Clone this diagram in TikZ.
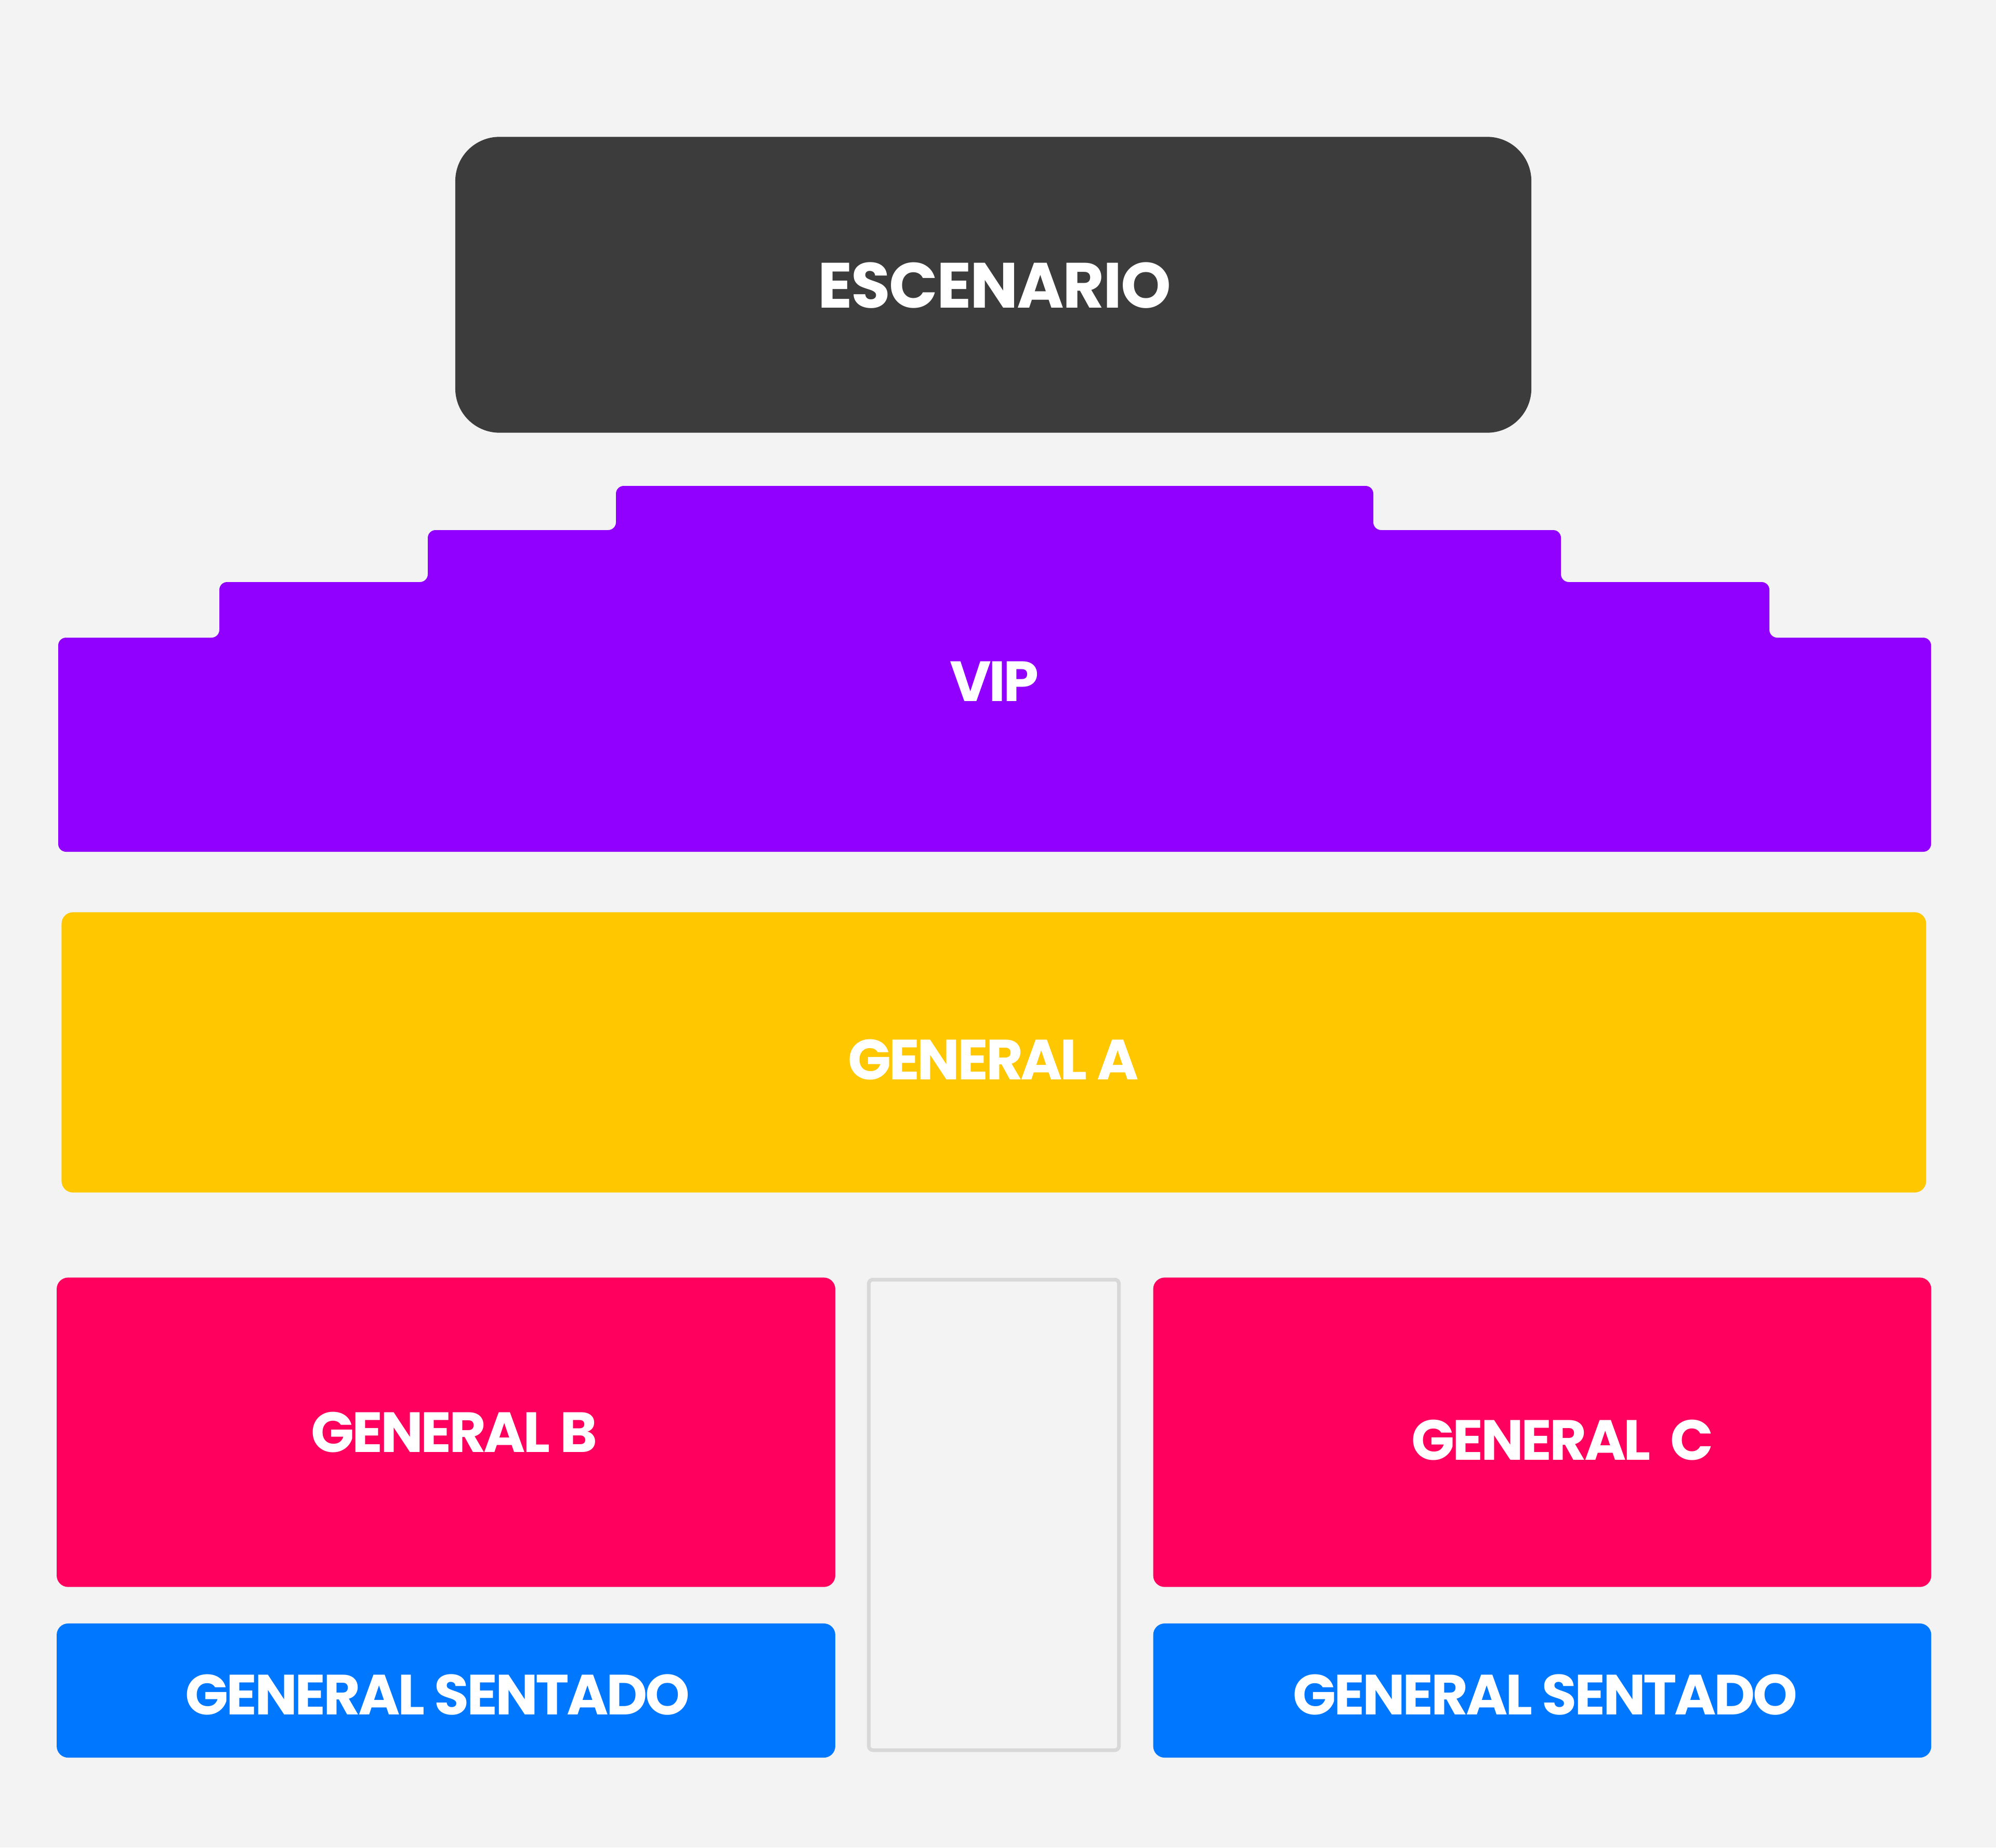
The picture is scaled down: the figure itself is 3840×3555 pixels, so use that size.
\documentclass[tikz,border=0pt]{standalone}
\usepackage{fontspec}
\setmainfont{Poppins}
\definecolor{floor}{HTML}{F3F3F3}
\definecolor{stagegray}{HTML}{3C3C3C}
\definecolor{vippurple}{HTML}{9100FF}
\definecolor{genyellow}{HTML}{FFC700}
\definecolor{genpink}{HTML}{FF005F}
\definecolor{seatblue}{HTML}{0077FF}
\definecolor{aisle}{HTML}{D8D8D8}
\tikzset{
  zone/.style={draw=none, inner sep=0pt, rounded corners=0.22cm},
  zonelabel/.style={text=white, anchor=base, inner sep=0pt,
    font=\bfseries\fontsize{31}{31}\selectfont\addfontfeatures{LetterSpace=-4}},
}
\begin{document}
\begin{tikzpicture}[x=0.01cm, y=-0.01cm]
\fill[floor] (0, 0) rectangle (3840, 3555);
\useasboundingbox (0, 0) rectangle (3840, 3555);
% stage
\node (stage) [zone, fill=stagegray, rounded corners=0.85cm,
  minimum width=20.69cm, minimum height=5.69cm] at (1911, 548) {};
\node (stagelbl) [zonelabel, font=\bfseries\fontsize{35}{35}\selectfont\addfontfeatures{LetterSpace=-2}] at (1913, 593) {ESCENARIO};
% vip, stepped front
\fill [vippurple, rounded corners=0.15cm] (112, 1227) -- ++(310, 0) -- ++(0, -107) -- ++(401, 0)
  -- ++(0, -100) -- ++(362, 0) -- ++(0, -85) -- ++(1457, 0) -- ++(0, 85) -- ++(361, 0)
  -- ++(0, 100) -- ++(401, 0) -- ++(0, 107) -- ++(311, 0) -- ++(0, 412) -- ++(-3603, 0) -- cycle;
\node (viplbl) [zonelabel] at (1913, 1349) {VIP};
% general
\node (genA) [zone, fill=genyellow, minimum width=35.85cm, minimum height=5.39cm] at (1912, 2025) {};
\node (genAlbl) [zonelabel] at (1911, 2077) {GENERAL A};
\node (genB) [zone, fill=genpink, minimum width=14.97cm, minimum height=5.95cm] at (858, 2756) {};
\node (genBlbl) [zonelabel] at (874, 2794) {GENERAL B};
\node (genC) [zone, fill=genpink, minimum width=14.96cm, minimum height=5.95cm] at (2967, 2756) {};
\node (genClbl) [zonelabel] at (3006, 2809) {GENERAL\ \ C};
% seated
\node (seatL) [zone, fill=seatblue, minimum width=14.97cm, minimum height=2.58cm] at (858, 3253) {};
\node (seatLlbl) [zonelabel] at (842, 3299) {GENERAL SENTADO};
\node (seatR) [zone, fill=seatblue, minimum width=14.96cm, minimum height=2.58cm] at (2967, 3253) {};
\node (seatRlbl) [zonelabel] at (2973, 3299) {GENERAL SENTADO};
% aisle
\node (walk) [draw=aisle, line width=0.07cm, rounded corners=0.08cm, inner sep=0pt,
  minimum width=4.81cm, minimum height=9.05cm] at (1912, 2915) {};
\end{tikzpicture}
\end{document}
